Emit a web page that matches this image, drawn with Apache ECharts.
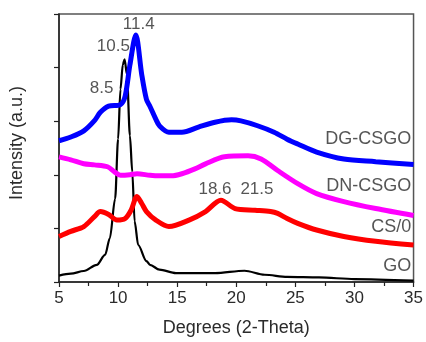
<!DOCTYPE html>
<html>
<head>
<meta charset="utf-8">
<script src="https://cdn.jsdelivr.net/npm/echarts@6/dist/echarts.min.js"></script>
<style>
  html, body { margin: 0; padding: 0; background: #fff; }
  #chart { width: 426px; height: 342px; }
</style>
</head>
<body>
<div id="chart"></div>
<script>
// XRD patterns, intensity in arbitrary units (0-100 over the plot height)
const dgX = [5, 6, 7.1, 8, 8.5, 9.2, 10.2, 10.6, 11, 11.5, 12, 12.4, 12.7, 13.2, 13.5, 14.3, 15.4, 16.8, 18.2, 19.6, 20.4, 21.8, 23.2, 24.3, 25.2, 26.8, 29.1, 31.8, 35];
const dgY = [52.7, 54.1, 56.4, 60.2, 63.3, 65.6, 66.2, 69.4, 81, 92.2, 77.4, 68.1, 65.5, 60.7, 58.3, 55.9, 55.9, 57.8, 59.6, 60.5, 60.1, 58.3, 55.9, 53.3, 51.5, 48.5, 45.9, 44.9, 43.8];

const dnX = [5, 6, 7.1, 8, 9.1, 9.7, 10.2, 11, 11.6, 12.7, 13.5, 14.5, 15.4, 16.5, 17.4, 19, 21, 22.1, 23.5, 25.2, 26.8, 29.1, 31.8, 35];
const dnY = [46.7, 45.6, 44.1, 43.7, 43, 41.1, 39.8, 40, 40.4, 39.8, 39.6, 39.6, 40.4, 42.2, 44.1, 46.7, 47.1, 45.9, 41.6, 36.7, 33, 30, 27.4, 24.8];

const csX = [5, 6, 7.1, 8, 8.5, 9.2, 9.9, 10.6, 11.1, 11.6, 12, 12.4, 13.2, 14.3, 16, 17.4, 18.7, 19.9, 21.6, 22.9, 23.5, 24.3, 25.2, 26.8, 29.1, 31.8, 35];
const csY = [17, 18.9, 20.7, 24.4, 26.3, 25.2, 23.1, 23.7, 26.8, 31.9, 29.3, 26.3, 23.1, 20.7, 23.1, 26.3, 30.5, 27.4, 26.8, 26.3, 25.6, 23.7, 21.9, 19.4, 17, 15.2, 13.8];

const goX = [5, 6, 7.1, 8.2, 8.9, 9.3, 9.75, 10, 10.2, 10.4, 10.55, 10.75, 11, 11.2, 11.4, 11.7, 12.4, 12.7, 13.5, 14.9, 18.2, 20.7, 22.4, 24.3, 27, 30, 35];
const goY = [2.4, 3.1, 4.1, 6.4, 10.1, 16.3, 31.1, 53.3, 71.9, 81.1, 83.1, 77.4, 54.6, 41.1, 22.6, 13.8, 7.8, 6.4, 4.6, 3.3, 3.3, 4.2, 2.7, 1.9, 1.7, 1.1, 0.5];

// peak labels: [x, y, text]
const peakLabels = [
  [11.75, 96.3, '11.4'],
  [9.6, 88, '10.5'],
  [8.6, 72.2, '8.5'],
  [18.2, 34.4, '18.6'],
  [21.75, 34.4, '21.5']
];
// sample names, right aligned near the right edge: [x, y, text]
const nameLabels = [
  [34.8, 53.5, 'DG-CSGO'],
  [34.8, 35.7, 'DN-CSGO'],
  [34.8, 20.6, 'CS/0'],
  [34.8, 6.1, 'GO']
];

const xTicks = [5, 10, 15, 20, 25, 30, 35];

const font = 'Arial, "Liberation Sans", sans-serif';
const textColor = '#2b2b2b';
const zip = (xs, ys) => xs.map((x, i) => [x, ys[i]]);

const chart = echarts.init(document.getElementById('chart'));

function lineSeries(name, xs, ys, color, width, monotone) {
  return {
    name: name,
    type: 'line',
    data: zip(xs, ys),
    smooth: 0.3,
    smoothMonotone: monotone ? 'x' : undefined,
    symbol: 'none',
    lineStyle: { color: color, width: width },
    z: 3
  };
}

const option = {
  animation: false,
  grid: {
    left: 58, right: 8, top: 14, bottom: 58,
    show: true,
    borderColor: '#555',
    borderWidth: 1.5
  },
  xAxis: {
    type: 'value',
    min: 5,
    max: 35,
    interval: 5,
    name: 'Degrees (2-Theta)',
    nameLocation: 'middle',
    nameGap: 37,
    nameTextStyle: { fontFamily: font, fontSize: 18, color: textColor },
    axisLine: { lineStyle: { color: '#222', width: 1.5 } },
    axisTick: { inside: false, length: 5, lineStyle: { color: '#222', width: 1.2 } },
    minorTick: { show: true, splitNumber: 2, length: 4, lineStyle: { color: '#222', width: 1.2 } },
    axisLabel: {
      fontFamily: font, fontSize: 17, color: textColor, margin: 8,
      formatter: v => (xTicks.includes(v) ? String(v) : '')
    },
    splitLine: { show: false }
  },
  yAxis: {
    type: 'value',
    min: 0,
    max: 100,
    interval: 20,
    name: 'Intensity (a.u.)',
    nameLocation: 'middle',
    nameGap: 33,
    nameTextStyle: { fontFamily: font, fontSize: 18, color: textColor, padding: [0, 0, 0, 10] },
    axisLine: { show: true, lineStyle: { color: '#222', width: 1.5 } },
    axisTick: { show: true, inside: false, length: 5, lineStyle: { color: '#222', width: 1.2 } },
    axisLabel: { show: false },
    splitLine: { show: false }
  },
  series: [
    lineSeries('GO', goX, goY, '#000000', 2.2, true),
    lineSeries('CS/0', csX, csY, '#ff0000', 5, false),
    lineSeries('DN-CSGO', dnX, dnY, '#ff00ff', 5, false),
    lineSeries('DG-CSGO', dgX, dgY, '#0000ff', 5, false),
    {
      name: 'peaks',
      type: 'scatter',
      symbolSize: 0,
      silent: true,
      data: peakLabels.map(p => ({ value: [p[0], p[1]], name: p[2] })),
      label: {
        show: true, position: 'inside', formatter: '{b}',
        fontFamily: font, fontSize: 17, color: textColor
      },
      z: 5
    },
    {
      name: 'names',
      type: 'scatter',
      symbolSize: 0,
      silent: true,
      data: nameLabels.map(p => ({ value: [p[0], p[1]], name: p[2] })),
      label: {
        show: true, position: 'inside', align: 'right', formatter: '{b}',
        fontFamily: font, fontSize: 18, color: textColor
      },
      z: 5
    }
  ]
};

chart.setOption(option);
</script>
</body>
</html>
